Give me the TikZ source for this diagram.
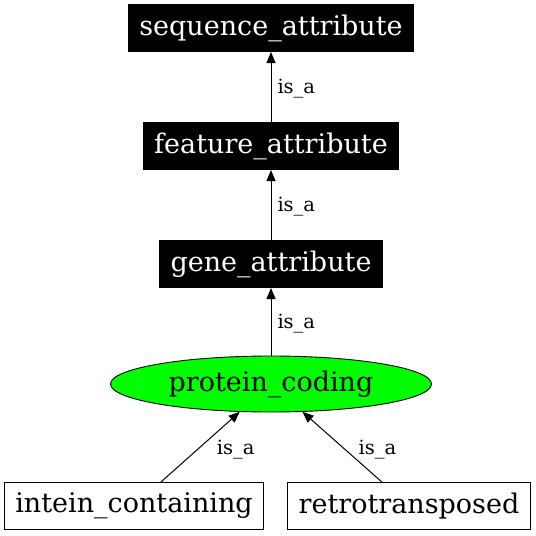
\documentclass[tikz,border=0pt]{standalone}
\usepackage{fontspec}
\setmainfont{DejaVu Serif}
\usepackage{tikz}
\usetikzlibrary{positioning, arrows.meta, shapes.geometric}
\definecolor{BoxColor}{RGB}{0,0,0}
\definecolor{CodingColor}{RGB}{0,255,0}
\tikzstyle{attr} = [rectangle, draw=BoxColor, fill=BoxColor, text=white, minimum height=47pt, inner xsep=11pt, line width=1pt, font=\fontsize{27}{30}\selectfont]
\tikzstyle{term} = [rectangle, draw, fill=white, minimum height=47pt, inner xsep=11pt, line width=1pt, font=\fontsize{27}{30}\selectfont]
\tikzstyle{coding} = [ellipse, draw, fill=CodingColor, minimum width=321pt, minimum height=56pt, inner sep=0pt, line width=0.9pt, font=\fontsize{27}{30}\selectfont]
\tikzstyle{isa} = [->, line width=1pt, >={Triangle[length=11pt, width=9pt]}]
\tikzstyle{lbl} = [font=\fontsize{19.5}{22}\selectfont, inner sep=2pt]

\begin{document}
\begin{tikzpicture}[x=1pt, y=-1pt]
            \useasboundingbox (0,0) rectangle (536,536);
            % Attribute chain
            \node[attr] (seq) at (271,28) {sequence\_attribute};
            \node[attr] (feat) at (271,146) {feature\_attribute};
            \node[attr] (gene) at (271,264) {gene\_attribute};
            \node[coding] (prot) at (271,384) {protein\_coding};

            % Leaves
            \node[term] (intein) at (134,506) {intein\_containing};
            \node[term] (retro) at (409,506) {retrotransposed};

            % Edges
            \draw[isa] (feat) -- node[lbl, right=4pt, yshift=-2pt] {is\_a} (seq);
            \draw[isa] (gene) -- node[lbl, right=4pt, yshift=-2pt] {is\_a} (feat);
            \draw[isa] (prot) -- node[lbl, right=4pt, yshift=-2pt] {is\_a} (gene);
            \draw[isa] (intein) -- node[lbl, right=14pt, yshift=-3pt] {is\_a} (prot);
            \draw[isa] (retro) -- node[lbl, right=14pt, yshift=-3pt] {is\_a} (prot);
        \end{tikzpicture}
\end{document}
